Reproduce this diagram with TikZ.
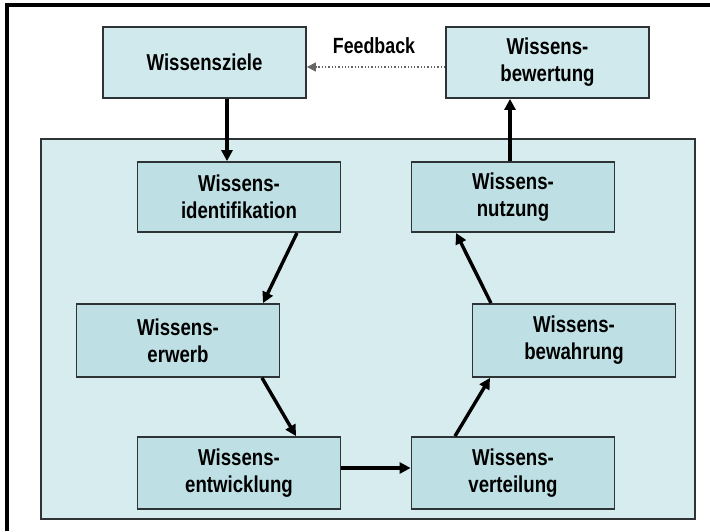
\documentclass[tikz,border=0pt]{standalone}
\usepackage{fontspec}
\setmainfont{Liberation Sans}[FakeStretch=0.81]
\usepackage{tikz}
\usetikzlibrary{arrows.meta}

\definecolor{outerfill}{HTML}{D7ECEE}
\definecolor{topfill}{HTML}{D0E9EC}
\definecolor{innerfill}{HTML}{BEE0E4}
\definecolor{boxline}{HTML}{2E3436}

\begin{document}
\begin{tikzpicture}[x=1pt,y=-1pt,
  wbox/.style={draw=boxline, line width=1.8pt, minimum width=\BoxW pt, minimum height=72pt,
    inner sep=0pt, align=center, font=\fontsize{23}{27}\selectfont\bfseries},
  flow/.style={line width=3.4pt, -{Triangle[length=11pt,width=11pt]}}]
  \pgfmathsetmacro{\BoxW}{203}
  \pgfmathsetmacro{\LeftX}{239}
  \pgfmathsetmacro{\RightX}{513}

  \useasboundingbox (0,0) rectangle (710,531);
  \draw[line width=3.5pt] (7,531) -- (7,5) -- (710,5);

  \draw[boxline, line width=1.8pt, fill=outerfill] (41,139) rectangle (695,519);

  % top row
  \node[wbox, fill=topfill, minimum height=71pt] (ziele) at (204.5,62.5) {Wissensziele};
  \node[wbox, fill=topfill, minimum height=71pt] (bewertung) at (547.5,62.5) {Wissens-\\bewertung};

  % the cycle
  \node[wbox, fill=innerfill, minimum height=70pt] (identifikation) at (\LeftX,197) {Wissens-\\identifikation};
  \node[wbox, fill=innerfill, minimum height=70pt] (nutzung) at (\RightX,197) {Wissens-\\nutzung};
  \node[wbox, fill=innerfill, minimum height=73pt] (erwerb) at (178,340.5) {Wissens-\\erwerb};
  \node[wbox, fill=innerfill, minimum height=73pt] (bewahrung) at (574,340.5) {Wissens-\\bewahrung};
  \node[wbox, fill=innerfill] (entwicklung) at (\LeftX,473) {Wissens-\\entwicklung};
  \node[wbox, fill=innerfill] (verteilung) at (\RightX,473) {Wissens-\\verteilung};

  \draw[flow] ([xshift=22.5pt]ziele.south) -- ([xshift=-12pt]identifikation.north);
  \draw[flow] ([xshift=58pt]identifikation.south) -- ([xshift=85pt]erwerb.north);
  \draw[flow] ([xshift=84pt]erwerb.south) -- ([xshift=57pt]entwicklung.north);
  \draw[flow] ([yshift=5pt]entwicklung.east) -- ([yshift=5pt]verteilung.west);
  \draw[flow] ([xshift=-58pt]verteilung.north) -- ([xshift=-84pt]bewahrung.south);
  \draw[flow] ([xshift=-83pt]bewahrung.north) -- ([xshift=-57pt]nutzung.south);
  \draw[flow] ([xshift=-3pt]nutzung.north) -- ([xshift=-37.5pt]bewertung.south);

  % feedback
  \draw[black!60, line width=1.3pt, dotted, -{Triangle[length=9pt,width=9pt]}]
    ([yshift=-4.5pt]bewertung.west) -- ([yshift=-4.5pt]ziele.east);
  \node[font=\fontsize{22}{26}\selectfont\bfseries] (feedback) at (374,46) {Feedback};
\end{tikzpicture}
\end{document}
